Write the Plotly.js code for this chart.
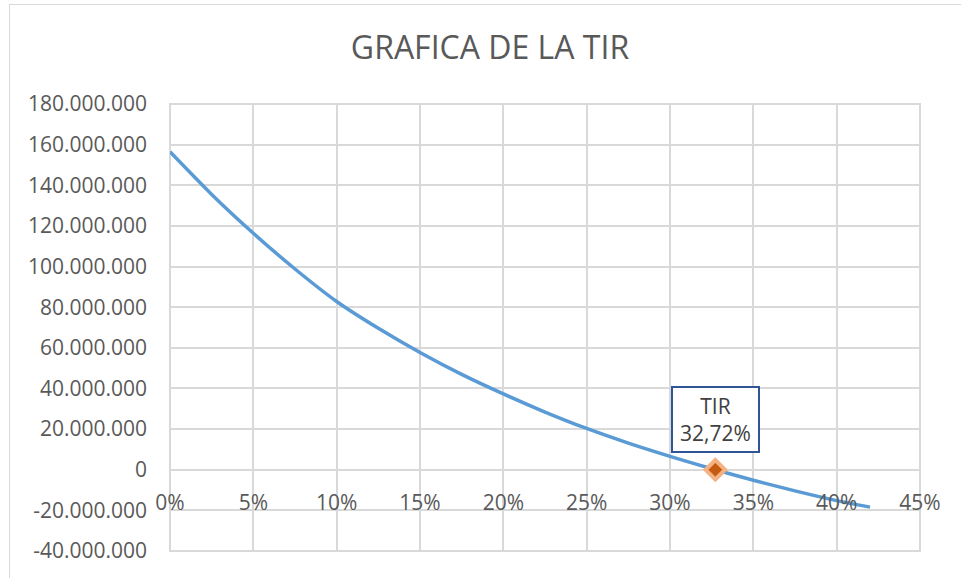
<!DOCTYPE html>
<html>
<head>
<meta charset="utf-8">
<script src="https://cdn.plot.ly/plotly-3.0.1.min.js"></script>
<style>
html,body{margin:0;padding:0;background:#fff;}
#wrap{position:relative;width:961px;height:578px;overflow:hidden;}
#frame{position:absolute;left:9px;top:4px;width:1000px;height:1000px;border:1.5px solid #d9d9d9;box-sizing:border-box;}
#chart{position:absolute;left:0;top:0;width:961px;height:578px;}
</style>
</head>
<body>
<div id="wrap"><div id="frame"></div><div id="chart"></div></div>
<script>
// Discount rate (fraction) and NPV values
var rates = [0, 0.025, 0.05, 0.075, 0.10, 0.125, 0.15, 0.175, 0.20, 0.225, 0.25, 0.275, 0.30, 0.3272, 0.35, 0.375, 0.40, 0.42];
var npv = [156500000, 135500000, 116400000, 98800000, 82800000, 69600000, 57700000, 46900000, 37300000, 28400000, 20300000, 13100000, 6600000, 0, -5200000, -10400000, -15200000, -18400000];

var tirRate = [0.3272];
var tirValue = [0];
var tirLabel = "TIR<br>32,72%";

var yTickVals = [-40000000, -20000000, 0, 20000000, 40000000, 60000000, 80000000, 100000000, 120000000, 140000000, 160000000, 180000000];
var yTickText = ["-40.000.000", "-20.000.000", "0", "20.000.000", "40.000.000", "60.000.000", "80.000.000", "100.000.000", "120.000.000", "140.000.000", "160.000.000", "180.000.000"];
var xTickVals = [0, 0.05, 0.10, 0.15, 0.20, 0.25, 0.30, 0.35, 0.40, 0.45];
var xTickText = ["0%", "5%", "10%", "15%", "20%", "25%", "30%", "35%", "40%", "45%"];

var titleText = "GRAFICA DE LA TIR";

var fontFam = "'Open Sans', 'Liberation Sans', sans-serif";
var yMin = -40000000, yMax = 180000000;
var gridCol = '#d9d9d9';

var traces = [
  {
    x: rates, y: npv, type: 'scatter', mode: 'lines',
    line: {color: '#5b9bd5', width: 3.5, shape: 'spline', smoothing: 0.6},
    hoverinfo: 'skip', showlegend: false
  },
  {
    x: tirRate, y: tirValue, type: 'scatter', mode: 'markers',
    marker: {symbol: 'diamond', size: 15, color: '#c55a11', line: {color: '#f4b183', width: 4}},
    showlegend: false
  }
];

var layout = {
  width: 961, height: 578,
  paper_bgcolor: 'rgba(0,0,0,0)',
  plot_bgcolor: 'rgba(0,0,0,0)',
  margin: {l: 170, r: 41, t: 104, b: 27, pad: 0},
  font: {family: fontFam, color: '#595959', size: 21},
  title: {
    text: titleText,
    font: {family: fontFam, size: 32, color: '#595959'},
    x: 490 / 961, xanchor: 'center', xref: 'container',
    y: 1 - 48/578, yanchor: 'middle', yref: 'container'
  },
  xaxis: {
    range: [0, 0.45],
    tickvals: xTickVals, ticktext: xTickText,
    showgrid: true, gridcolor: gridCol, gridwidth: 2,
    zeroline: false, showline: false, ticks: '',
    anchor: 'free', position: (0 - yMin) / (yMax - yMin),
    ticklabelstandoff: 18,
    tickfont: {family: fontFam, size: 21, color: '#595959'},
    fixedrange: true
  },
  yaxis: {
    range: [yMin, yMax],
    tickvals: yTickVals, ticktext: yTickText,
    showgrid: true, gridcolor: gridCol, gridwidth: 2,
    zeroline: true, zerolinecolor: gridCol, zerolinewidth: 2,
    showline: false, ticks: '',
    ticklabelstandoff: 22,
    tickfont: {family: fontFam, size: 21, color: '#595959'},
    fixedrange: true
  },
  shapes: [{
    type: 'rect', xref: 'paper', yref: 'paper', x0: 0, x1: 1, y0: 0, y1: 1,
    line: {color: gridCol, width: 2}, fillcolor: 'rgba(0,0,0,0)', layer: 'below'
  }],
  annotations: [{
    x: tirRate[0], y: tirValue[0], xref: 'x', yref: 'y',
    text: tirLabel, showarrow: false,
    xanchor: 'center', yanchor: 'bottom', yshift: 17,
    width: 81, height: 59, align: 'center', valign: 'middle',
    bordercolor: '#2f5597', borderwidth: 2, borderpad: 2,
    bgcolor: '#ffffff',
    font: {family: fontFam, size: 21, color: '#404040'}
  }]
};

Plotly.newPlot('chart', traces, layout, {displayModeBar: false, staticPlot: true});
</script>
</body>
</html>
